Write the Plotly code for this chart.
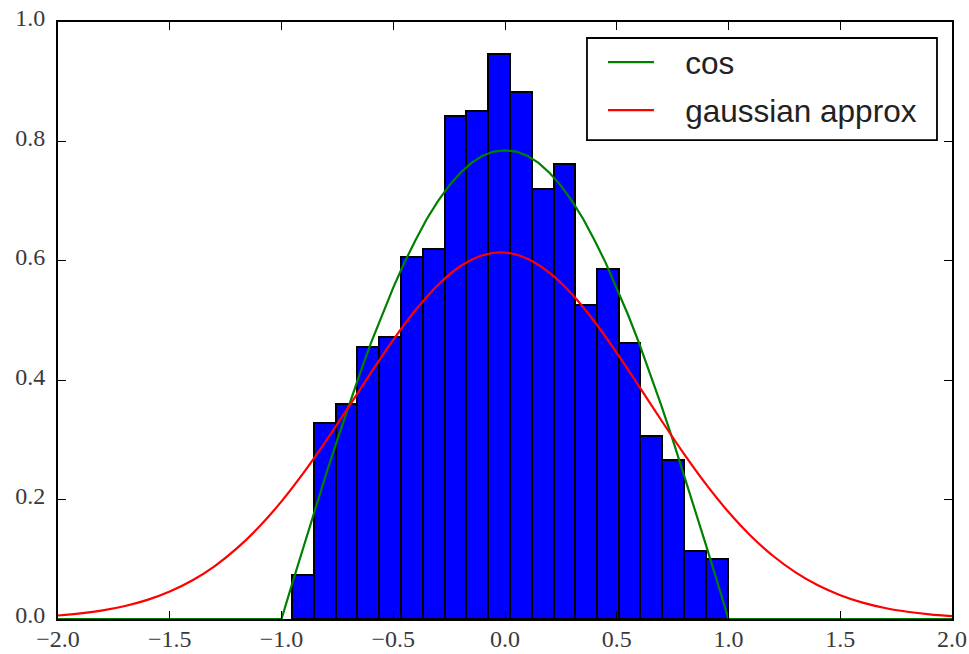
import numpy as np
import plotly.graph_objects as go

# Histogram (density)
bin_edges = [-0.952, -0.855, -0.757, -0.660, -0.562, -0.465, -0.368, -0.270,
             -0.173, -0.075, 0.022, 0.119, 0.217, 0.314, 0.412, 0.509,
             0.606, 0.704, 0.801, 0.899, 0.996]
bin_heights = [0.074, 0.329, 0.360, 0.456, 0.472, 0.606, 0.620, 0.843, 0.851,
               0.946, 0.883, 0.721, 0.762, 0.526, 0.587, 0.463, 0.306, 0.266,
               0.114, 0.100]

# "cos" curve
cos_x = [-2.0, -1.0, -0.95, -0.9, -0.85, -0.8, -0.75, -0.7, -0.65, -0.6, -0.55,
         -0.5, -0.45, -0.4, -0.35, -0.3, -0.25, -0.2, -0.15, -0.1, -0.05, 0.0,
         0.05, 0.1, 0.15, 0.2, 0.25, 0.3, 0.35, 0.4, 0.45, 0.5, 0.55, 0.6,
         0.65, 0.7, 0.75, 0.8, 0.85, 0.9, 0.95, 1.0, 2.0]
cos_y = [0.0, 0.0, 0.062, 0.123, 0.183, 0.243, 0.301, 0.357, 0.410, 0.462, 0.510,
         0.555, 0.597, 0.635, 0.670, 0.700, 0.726, 0.747, 0.764, 0.776, 0.783, 0.785,
         0.783, 0.776, 0.764, 0.747, 0.726, 0.700, 0.670, 0.635, 0.597, 0.555, 0.510,
         0.462, 0.410, 0.357, 0.301, 0.243, 0.183, 0.123, 0.062, 0.0, 0.0]

# "gaussian approx" curve
gauss_x = [-2.0, -1.9, -1.8, -1.7, -1.6, -1.5, -1.4, -1.3, -1.2, -1.1, -1.0,
           -0.9, -0.8, -0.7, -0.6, -0.5, -0.4, -0.3, -0.2, -0.1, 0.0,
           0.1, 0.2, 0.3, 0.4, 0.5, 0.6, 0.7, 0.8, 0.9, 1.0,
           1.1, 1.2, 1.3, 1.4, 1.5, 1.6, 1.7, 1.8, 1.9, 2.0]
gauss_y = [0.0059, 0.0094, 0.0144, 0.0218, 0.0320, 0.0460, 0.0645, 0.0883, 0.1182,
           0.1544, 0.1970, 0.2456, 0.2989, 0.3552, 0.4124, 0.4675, 0.5175, 0.5596,
           0.5909, 0.6094, 0.6137, 0.6036, 0.5798, 0.5439, 0.4983, 0.4459, 0.3896,
           0.3325, 0.2771, 0.2255, 0.1792, 0.1391, 0.1055, 0.0781, 0.0565, 0.0399,
           0.0275, 0.0185, 0.0122, 0.0078, 0.0049]

x_ticks = [-2.0, -1.5, -1.0, -0.5, 0.0, 0.5, 1.0, 1.5, 2.0]
y_ticks = [0.0, 0.2, 0.4, 0.6, 0.8, 1.0]

edges = np.array(bin_edges)
centers = (edges[:-1] + edges[1:]) / 2
widths = np.diff(edges)

PAD = "\u00a0" * 3

fig = go.Figure()
fig.add_trace(go.Bar(
    x=centers, y=bin_heights, width=widths,
    marker=dict(color="#0000ff", line=dict(color="black", width=2)),
    showlegend=False, hoverinfo="skip",
))
fig.add_trace(go.Scatter(
    x=cos_x, y=cos_y, mode="lines", name=PAD + "cos",
    line=dict(color="#008000", width=2.2), legendgroup="a",
))
fig.add_trace(go.Scatter(
    x=gauss_x, y=gauss_y, mode="lines", name=PAD + "gaussian approx",
    line=dict(color="#ff0000", width=2.2, shape="spline"), legendgroup="b",
))

axis_common = dict(
    showline=True, linecolor="black", linewidth=1.8, mirror="allticks",
    ticks="inside", ticklen=8, tickwidth=1.2, tickcolor="black",
    showgrid=False, zeroline=False, automargin=False,
    tickfont=dict(family="Liberation Serif", size=24, color="#3a3a3a"),
    tickformat=".1f",
)

# legend frame (paper coordinates)
fig.add_shape(type="rect", xref="paper", yref="paper",
              x0=0.5917, x1=0.9832, y0=0.8023, y1=0.9732,
              line=dict(color="black", width=1.8), fillcolor="white", layer="above")

fig.update_layout(
    width=969, height=654,
    margin=dict(l=58, r=17, t=22, b=35),
    paper_bgcolor="white", plot_bgcolor="white",
    bargap=0,
    xaxis=dict(range=[-2, 2], tickvals=x_ticks, ticklabelstandoff=-3, **axis_common),
    yaxis=dict(range=[0, 1], tickvals=y_ticks, ticklabelstandoff=6,
               ticklabelshift=-4, **axis_common),
    legend=dict(
        x=0.6096, y=0.978, xanchor="left", yanchor="top",
        borderwidth=0, bgcolor="rgba(0,0,0,0)",
        font=dict(family="Liberation Sans", size=31.5, color="#222222"),
        itemwidth=46, tracegroupgap=4,
    ),
    showlegend=True,
)

fig.write_html("out.html")
